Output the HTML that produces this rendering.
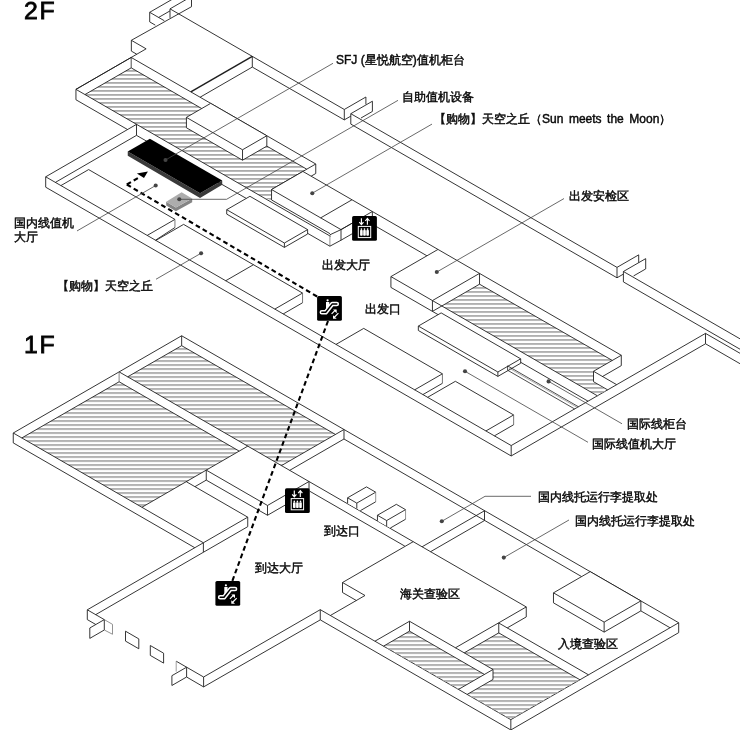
<!DOCTYPE html>
<html lang="zh"><head><meta charset="utf-8"><title>Airport floor map</title>
<style>
html,body{margin:0;padding:0;background:#fff}
body{width:740px;height:730px;position:relative;overflow:hidden;font-family:"Liberation Sans",sans-serif;color:#111}
svg{position:absolute;left:0;top:0;display:block}
.t{position:absolute;font-size:12px;line-height:14px;white-space:nowrap;font-weight:500;letter-spacing:0;-webkit-text-stroke:0.42px #000;will-change:transform}
.f{position:absolute;font-size:24.8px;line-height:26px;letter-spacing:1.6px;color:#000;-webkit-text-stroke:0.8px #000;will-change:transform}
</style></head><body>
<svg width="740" height="730" viewBox="0 0 740 730">
<defs>
<pattern id="h1" width="8" height="4" patternUnits="userSpaceOnUse" x="0" y="2.0"><rect x="0" y="0" width="8" height="1.8" fill="#ababab"/></pattern>
<pattern id="h2" width="8" height="4" patternUnits="userSpaceOnUse" x="0" y="3.05"><rect x="0" y="0" width="8" height="1.8" fill="#ababab"/></pattern>
<pattern id="h3" width="8" height="4" patternUnits="userSpaceOnUse" x="0" y="0.1"><rect x="0" y="0" width="8" height="1.8" fill="#ababab"/></pattern>
<pattern id="h4" width="8" height="4" patternUnits="userSpaceOnUse" x="0" y="0.1"><rect x="0" y="0" width="8" height="1.8" fill="#ababab"/></pattern>
</defs>
<rect width="740" height="730" fill="#fff"/>
<polygon points="131.2,67.85 306.75,169.2 271.54,189.53 271.54,200.53 260.5,195.9 84.96,94.55" fill="url(#h1)" stroke="none"/>
<polyline points="191.5,6.7 131.35,40.3 146.13,48.83 75.95,89.35" fill="none" stroke="#1f1f1f" stroke-width="0.9" stroke-linejoin="round"/>
<line x1="131.35" y1="40.3" x2="131.35" y2="51.1" stroke="#1f1f1f" stroke-width="0.9"/>
<line x1="131.35" y1="51.1" x2="136.78" y2="54.23" stroke="#1f1f1f" stroke-width="0.9"/>
<line x1="191.5" y1="6.7" x2="191.5" y2="-1" stroke="#1f1f1f" stroke-width="0.9"/>
<line x1="149.7" y1="12.3" x2="149.7" y2="21.9" stroke="#1f1f1f" stroke-width="0.9"/>
<line x1="149.7" y1="12.3" x2="172" y2="-0.57" stroke="#1f1f1f" stroke-width="0.9"/>
<line x1="149.7" y1="12.3" x2="164.3" y2="20.73" stroke="#1f1f1f" stroke-width="0.9"/>
<line x1="149.7" y1="21.9" x2="155.3" y2="25.13" stroke="#1f1f1f" stroke-width="0.9"/>
<line x1="158.7" y1="17.4" x2="170" y2="10.88" stroke="#1f1f1f" stroke-width="0.9"/>
<line x1="170" y1="8.85" x2="170" y2="17.9" stroke="#1f1f1f" stroke-width="0.9"/>
<line x1="170" y1="8.85" x2="187" y2="-0.96" stroke="#1f1f1f" stroke-width="0.9"/>
<line x1="170" y1="8.85" x2="344.3" y2="109.48" stroke="#1f1f1f" stroke-width="0.9"/>
<line x1="252.3" y1="56.37" x2="252.3" y2="67.07" stroke="#1f1f1f" stroke-width="0.9"/>
<line x1="252.3" y1="56.37" x2="190.81" y2="91.87" stroke="#1f1f1f" stroke-width="1.5"/>
<line x1="252.3" y1="67.07" x2="200.08" y2="97.22" stroke="#1f1f1f" stroke-width="0.9"/>
<line x1="252.3" y1="67.07" x2="344.3" y2="119.88" stroke="#1f1f1f" stroke-width="0.9"/>
<line x1="344.3" y1="109.48" x2="344.3" y2="119.88" stroke="#1f1f1f" stroke-width="0.9"/>
<line x1="344.3" y1="109.48" x2="365.9" y2="97.01" stroke="#1f1f1f" stroke-width="0.9"/>
<line x1="365.9" y1="97.01" x2="365.9" y2="104.31" stroke="#1f1f1f" stroke-width="0.9"/>
<line x1="344.3" y1="119.88" x2="350.8" y2="116.13" stroke="#1f1f1f" stroke-width="0.9"/>
<line x1="350.8" y1="113.7" x2="350.8" y2="124.1" stroke="#1f1f1f" stroke-width="0.9"/>
<line x1="350.8" y1="113.7" x2="372.4" y2="101.23" stroke="#1f1f1f" stroke-width="0.9"/>
<line x1="372.4" y1="101.23" x2="372.4" y2="111.43" stroke="#1f1f1f" stroke-width="0.9"/>
<line x1="372.4" y1="111.43" x2="361" y2="118.01" stroke="#1f1f1f" stroke-width="0.9"/>
<line x1="350.8" y1="113.7" x2="617" y2="267.39" stroke="#1f1f1f" stroke-width="0.9"/>
<line x1="350.8" y1="124.1" x2="617" y2="277.79" stroke="#1f1f1f" stroke-width="0.9"/>
<line x1="617" y1="267.39" x2="617" y2="277.79" stroke="#1f1f1f" stroke-width="0.9"/>
<line x1="617" y1="267.39" x2="638.7" y2="254.86" stroke="#1f1f1f" stroke-width="0.9"/>
<line x1="638.7" y1="254.86" x2="638.7" y2="262.66" stroke="#1f1f1f" stroke-width="0.9"/>
<line x1="617" y1="277.79" x2="623.4" y2="274.1" stroke="#1f1f1f" stroke-width="0.9"/>
<line x1="623.4" y1="271.5" x2="623.4" y2="281.9" stroke="#1f1f1f" stroke-width="0.9"/>
<line x1="623.4" y1="271.5" x2="645.7" y2="258.63" stroke="#1f1f1f" stroke-width="0.9"/>
<line x1="645.7" y1="258.63" x2="645.7" y2="268.93" stroke="#1f1f1f" stroke-width="0.9"/>
<line x1="645.7" y1="268.93" x2="633.6" y2="275.91" stroke="#1f1f1f" stroke-width="0.9"/>
<line x1="623.4" y1="271.5" x2="742" y2="339.97" stroke="#1f1f1f" stroke-width="0.9"/>
<line x1="623.4" y1="281.9" x2="742" y2="350.37" stroke="#1f1f1f" stroke-width="0.9"/>
<line x1="705.5" y1="333.38" x2="705.5" y2="343.78" stroke="#1f1f1f" stroke-width="0.9"/>
<line x1="705.5" y1="333.38" x2="511.2" y2="445.56" stroke="#1f1f1f" stroke-width="0.9"/>
<line x1="705.5" y1="343.78" x2="511.2" y2="455.96" stroke="#1f1f1f" stroke-width="0.9"/>
<line x1="511.2" y1="445.56" x2="511.2" y2="455.96" stroke="#1f1f1f" stroke-width="0.9"/>
<line x1="705.5" y1="333.38" x2="742" y2="354.45" stroke="#1f1f1f" stroke-width="0.9"/>
<line x1="705.5" y1="343.78" x2="742" y2="364.85" stroke="#1f1f1f" stroke-width="0.9"/>
<line x1="45.69" y1="176.8" x2="136.5" y2="124.37" stroke="#1f1f1f" stroke-width="0.9"/>
<line x1="136.5" y1="124.37" x2="136.5" y2="135.37" stroke="#1f1f1f" stroke-width="0.9"/>
<line x1="55.39" y1="182.4" x2="136.5" y2="135.37" stroke="#1f1f1f" stroke-width="0.9"/>
<line x1="75.95" y1="89.35" x2="75.95" y2="99.75" stroke="#1f1f1f" stroke-width="0.9"/>
<line x1="75.95" y1="89.35" x2="131.2" y2="57.45" stroke="#1f1f1f" stroke-width="0.9"/>
<line x1="131.2" y1="57.45" x2="131.2" y2="67.85" stroke="#1f1f1f" stroke-width="0.8"/>
<line x1="131.2" y1="57.45" x2="315.75" y2="164" stroke="#1f1f1f" stroke-width="0.9"/>
<line x1="315.75" y1="164" x2="315.75" y2="173.5" stroke="#1f1f1f" stroke-width="0.9"/>
<line x1="315.75" y1="164" x2="271.54" y2="189.53" stroke="#1f1f1f" stroke-width="0.9"/>
<line x1="315.75" y1="173.5" x2="311.12" y2="176.18" stroke="#1f1f1f" stroke-width="0.9"/>
<line x1="131.2" y1="67.85" x2="306.75" y2="169.2" stroke="#1f1f1f" stroke-width="0.9"/>
<line x1="131.2" y1="67.85" x2="84.96" y2="94.55" stroke="#1f1f1f" stroke-width="0.9"/>
<line x1="75.95" y1="89.35" x2="330.5" y2="236.31" stroke="#1f1f1f" stroke-width="0.9"/>
<line x1="75.95" y1="99.75" x2="127.55" y2="129.54" stroke="#1f1f1f" stroke-width="0.9"/>
<line x1="136.5" y1="135.37" x2="250" y2="200.54" stroke="#1f1f1f" stroke-width="0.9"/>
<polygon points="186.41,117.38 210.7,103.35 266.82,135.75 266.82,146.15 242.53,160.18 186.41,127.78" fill="#fff" stroke="none" stroke-width="0.9" stroke-linejoin="round"/>
<polygon points="186.41,117.38 210.7,103.35 266.82,135.75 242.53,149.78" fill="none" stroke="#1f1f1f" stroke-width="0.9" stroke-linejoin="round"/>
<polyline points="186.41,117.38 186.41,127.78 242.53,160.18 266.82,146.15 266.82,135.75" fill="none" stroke="#1f1f1f" stroke-width="0.9" stroke-linejoin="round"/>
<line x1="242.53" y1="149.78" x2="242.53" y2="160.18" stroke="#1f1f1f" stroke-width="0.9"/>
<polygon points="271.54,189.53 302.89,171.43 372.35,211.53 372.35,223.53 341,240.62 271.54,200.03" fill="#fff" stroke="none" stroke-width="0.9" stroke-linejoin="round"/>
<polygon points="271.54,189.53 302.89,171.43 372.35,211.53 341,229.62" fill="none" stroke="#1f1f1f" stroke-width="0.9" stroke-linejoin="round"/>
<line x1="271.54" y1="189.53" x2="271.54" y2="199.93" stroke="#1f1f1f" stroke-width="0.9"/>
<line x1="271.54" y1="199.93" x2="330" y2="233.68" stroke="#1f1f1f" stroke-width="0.9"/>
<line x1="329.9" y1="234.8" x2="329.9" y2="246.2" stroke="#777" stroke-width="0.8"/>
<line x1="329.9" y1="234.8" x2="341" y2="229.62" stroke="#1f1f1f" stroke-width="0.9"/>
<line x1="341" y1="229.62" x2="341" y2="240.22" stroke="#1f1f1f" stroke-width="0.9"/>
<line x1="329.9" y1="246.2" x2="341" y2="240.22" stroke="#1f1f1f" stroke-width="0.9"/>
<line x1="329.9" y1="246.2" x2="307.7" y2="233.38" stroke="#1f1f1f" stroke-width="0.9"/>
<line x1="320.65" y1="217.88" x2="352" y2="199.78" stroke="#1f1f1f" stroke-width="0.9"/>
<line x1="341" y1="229.62" x2="352.5" y2="222.98" stroke="#1f1f1f" stroke-width="0.9"/>
<line x1="341" y1="240.22" x2="352.5" y2="233.58" stroke="#1f1f1f" stroke-width="0.9"/>
<line x1="372.35" y1="211.53" x2="372.35" y2="217.53" stroke="#1f1f1f" stroke-width="0.9"/>
<line x1="372.35" y1="211.53" x2="437.99" y2="249.43" stroke="#1f1f1f" stroke-width="0.9"/>
<line x1="376" y1="226.38" x2="426.95" y2="255.8" stroke="#1f1f1f" stroke-width="0.9"/>
<polygon points="226.73,209.7 249.94,196.3 307.61,229.6 307.61,234 284.4,247.4 226.73,214.1" fill="#fff" stroke="none" stroke-width="0.9" stroke-linejoin="round"/>
<polygon points="226.73,209.7 249.94,196.3 307.61,229.6 284.4,243" fill="none" stroke="#1f1f1f" stroke-width="0.9" stroke-linejoin="round"/>
<polyline points="226.73,209.7 226.73,214.1 284.4,247.4 307.61,234 307.61,229.6" fill="none" stroke="#1f1f1f" stroke-width="0.9" stroke-linejoin="round"/>
<line x1="284.4" y1="243" x2="284.4" y2="247.4" stroke="#1f1f1f" stroke-width="0.9"/>
<polygon points="479.52,284.2 612.28,360.45 593.5,371.29 593.5,381.69 606.8,390.36 597.38,395.8 441.8,305.97" fill="url(#h2)" stroke="none"/>
<polygon points="390.92,276.6 437.99,249.43 479.52,273.4 479.52,284.2 432.45,311.38 390.92,287.4" fill="#fff" stroke="none" stroke-width="0.9" stroke-linejoin="round"/>
<polygon points="390.92,276.6 437.99,249.43 479.52,273.4 432.45,300.57" fill="none" stroke="#1f1f1f" stroke-width="0.9" stroke-linejoin="round"/>
<polyline points="390.92,276.6 390.92,287.4 432.45,311.38 479.52,284.2 479.52,273.4" fill="none" stroke="#1f1f1f" stroke-width="0.9" stroke-linejoin="round"/>
<line x1="432.45" y1="300.57" x2="432.45" y2="311.38" stroke="#1f1f1f" stroke-width="0.9"/>
<line x1="479.52" y1="273.4" x2="621.29" y2="355.25" stroke="#1f1f1f" stroke-width="0.9"/>
<line x1="621.29" y1="355.25" x2="621.29" y2="365.65" stroke="#1f1f1f" stroke-width="0.9"/>
<line x1="621.29" y1="355.25" x2="593.5" y2="371.29" stroke="#1f1f1f" stroke-width="0.9"/>
<line x1="593.5" y1="371.29" x2="593.5" y2="381.69" stroke="#1f1f1f" stroke-width="0.9"/>
<line x1="621.29" y1="365.65" x2="602" y2="376.79" stroke="#1f1f1f" stroke-width="0.9"/>
<line x1="593.5" y1="371.29" x2="616.67" y2="384.67" stroke="#1f1f1f" stroke-width="0.9"/>
<line x1="593.5" y1="381.69" x2="607.66" y2="389.87" stroke="#1f1f1f" stroke-width="0.9"/>
<line x1="479.52" y1="284.2" x2="612.28" y2="360.45" stroke="#1f1f1f" stroke-width="0.9"/>
<line x1="432.45" y1="300.57" x2="597.38" y2="395.8" stroke="#1f1f1f" stroke-width="0.9"/>
<line x1="432.45" y1="311.38" x2="588.03" y2="401.2" stroke="#1f1f1f" stroke-width="0.9"/>
<polygon points="418.33,326.07 441.15,312.9 520.7,358.83 520.7,363.23 497.88,376.4 418.33,330.47" fill="#fff" stroke="none" stroke-width="0.9" stroke-linejoin="round"/>
<polygon points="418.33,326.07 441.15,312.9 520.7,358.83 497.88,372" fill="none" stroke="#1f1f1f" stroke-width="0.9" stroke-linejoin="round"/>
<polyline points="418.33,326.07 418.33,330.47 497.88,376.4 520.7,363.23 520.7,358.83" fill="none" stroke="#1f1f1f" stroke-width="0.9" stroke-linejoin="round"/>
<line x1="497.88" y1="372" x2="497.88" y2="376.4" stroke="#1f1f1f" stroke-width="0.9"/>
<line x1="507.6" y1="365.86" x2="578.42" y2="406.75" stroke="#1f1f1f" stroke-width="0.8"/>
<line x1="509" y1="368.07" x2="577.21" y2="407.45" stroke="#777" stroke-width="0.6"/>
<line x1="507.6" y1="370.26" x2="574.61" y2="408.95" stroke="#1f1f1f" stroke-width="0.8"/>
<line x1="507.6" y1="365.86" x2="507.6" y2="370.26" stroke="#1f1f1f" stroke-width="0.8"/>
<polygon points="60.91,185.58 88.64,169.57 174.94,219.4 174.94,227.5 154.22,239.46 60.91,185.58" fill="#fff" stroke="none" stroke-width="0.9" stroke-linejoin="round"/>
<polyline points="60.91,185.58 88.64,169.57 174.94,219.4 147.21,235.41" fill="none" stroke="#1f1f1f" stroke-width="0.9" stroke-linejoin="round"/>
<line x1="174.94" y1="219.4" x2="174.94" y2="227.5" stroke="#555" stroke-width="0.8"/>
<line x1="174.94" y1="227.5" x2="155.52" y2="240.21" stroke="#1f1f1f" stroke-width="0.9"/>
<polygon points="155.87,240.41 183.6,224.4 302.55,293.07 302.55,302.77 283.22,313.94 155.87,240.41" fill="#fff" stroke="none" stroke-width="0.9" stroke-linejoin="round"/>
<polyline points="155.87,240.41 183.6,224.4 302.55,293.07 274.82,309.08" fill="none" stroke="#1f1f1f" stroke-width="0.9" stroke-linejoin="round"/>
<line x1="302.55" y1="293.07" x2="302.55" y2="302.77" stroke="#555" stroke-width="0.8"/>
<line x1="302.55" y1="302.77" x2="283.22" y2="313.94" stroke="#1f1f1f" stroke-width="0.9"/>
<line x1="225.71" y1="280.74" x2="253.44" y2="264.73" stroke="#1f1f1f" stroke-width="0.9"/>
<polygon points="336,344.41 363.73,328.4 442.41,373.82 442.41,383.32 422.91,394.58 336,344.41" fill="#fff" stroke="none" stroke-width="0.9" stroke-linejoin="round"/>
<polyline points="336,344.41 363.73,328.4 442.41,373.82 414.68,389.83" fill="none" stroke="#1f1f1f" stroke-width="0.9" stroke-linejoin="round"/>
<line x1="442.41" y1="373.82" x2="442.41" y2="383.32" stroke="#555" stroke-width="0.8"/>
<line x1="442.41" y1="383.32" x2="422.91" y2="394.58" stroke="#1f1f1f" stroke-width="0.9"/>
<polygon points="427.63,397.31 455.36,381.3 513.64,414.95 513.64,424.75 494.4,435.86 427.63,397.31" fill="#fff" stroke="none" stroke-width="0.9" stroke-linejoin="round"/>
<polyline points="427.63,397.31 455.36,381.3 513.64,414.95 485.91,430.96" fill="none" stroke="#1f1f1f" stroke-width="0.9" stroke-linejoin="round"/>
<line x1="513.64" y1="414.95" x2="513.64" y2="424.75" stroke="#555" stroke-width="0.8"/>
<line x1="513.64" y1="424.75" x2="494.4" y2="435.86" stroke="#1f1f1f" stroke-width="0.9"/>
<line x1="45.69" y1="176.8" x2="511.2" y2="445.56" stroke="#1f1f1f" stroke-width="0.9"/>
<line x1="45.69" y1="187.2" x2="511.2" y2="455.96" stroke="#1f1f1f" stroke-width="0.9"/>
<line x1="45.69" y1="176.8" x2="45.69" y2="187.2" stroke="#1f1f1f" stroke-width="0.9"/>
<polygon points="127.74,151.45 200.05,193.2 222.22,180.4 222.22,184.8 200.05,197.9 127.74,155.85" fill="#3a3a3a" stroke="none" stroke-width="0.9" stroke-linejoin="round"/>
<polygon points="127.74,151.45 149.91,138.65 222.22,180.4 200.05,193.2" fill="#000" stroke="none" stroke-width="0.9" stroke-linejoin="round"/>
<polygon points="166.2,201.8 175.9,207.5 192.2,198.6 192.2,202.2 175.9,211.2 166.2,205.4" fill="#858585" stroke="none" stroke-width="0.9" stroke-linejoin="round"/>
<polygon points="166.2,201.8 181.6,192.3 192.2,198.6 175.9,207.5" fill="#adadad" stroke="none" stroke-width="0.9" stroke-linejoin="round"/>
<polygon points="119.12,381.77 239.2,451.1 141.9,507.28 21.82,437.95" fill="url(#h3)" stroke="none"/>
<polygon points="181.65,345.67 335.41,434.45 281.46,465.6 127.7,376.82" fill="url(#h3)" stroke="none"/>
<line x1="13.25" y1="433" x2="181.65" y2="335.77" stroke="#1f1f1f" stroke-width="0.9"/>
<line x1="13.25" y1="433" x2="13.25" y2="442.9" stroke="#1f1f1f" stroke-width="0.9"/>
<line x1="181.65" y1="335.77" x2="181.65" y2="345.67" stroke="#1f1f1f" stroke-width="0.9"/>
<line x1="181.65" y1="335.77" x2="678.7" y2="622.75" stroke="#1f1f1f" stroke-width="0.9"/>
<line x1="678.7" y1="622.75" x2="678.7" y2="632.65" stroke="#1f1f1f" stroke-width="0.9"/>
<line x1="181.65" y1="345.67" x2="335.41" y2="434.45" stroke="#1f1f1f" stroke-width="0.9"/>
<line x1="181.65" y1="345.67" x2="127.7" y2="376.82" stroke="#1f1f1f" stroke-width="0.9"/>
<line x1="343.99" y1="429.5" x2="343.99" y2="439" stroke="#1f1f1f" stroke-width="0.9"/>
<line x1="343.99" y1="429.5" x2="281.46" y2="465.6" stroke="#1f1f1f" stroke-width="0.9"/>
<line x1="343.99" y1="439" x2="289.69" y2="470.35" stroke="#1f1f1f" stroke-width="0.9"/>
<line x1="119.12" y1="371.88" x2="526.25" y2="606.93" stroke="#1f1f1f" stroke-width="0.9"/>
<line x1="119.12" y1="371.88" x2="119.12" y2="381.77" stroke="#666" stroke-width="0.8"/>
<line x1="119.12" y1="381.77" x2="239.2" y2="451.1" stroke="#1f1f1f" stroke-width="0.9"/>
<line x1="119.12" y1="381.77" x2="21.82" y2="437.95" stroke="#1f1f1f" stroke-width="0.9"/>
<line x1="247.77" y1="446.15" x2="141.9" y2="507.28" stroke="#1f1f1f" stroke-width="0.9"/>
<line x1="13.25" y1="433" x2="203.39" y2="542.78" stroke="#1f1f1f" stroke-width="0.9"/>
<line x1="13.25" y1="442.9" x2="194.81" y2="547.73" stroke="#1f1f1f" stroke-width="0.9"/>
<polygon points="206.25,470.12 267.5,505.48 267.5,515.28 206.25,480.12" fill="#fff" stroke="none" stroke-width="0.9" stroke-linejoin="round"/>
<line x1="206.25" y1="470.12" x2="206.25" y2="480.12" stroke="#1f1f1f" stroke-width="0.9"/>
<line x1="206.25" y1="470.12" x2="267.5" y2="505.48" stroke="#1f1f1f" stroke-width="0.9"/>
<line x1="267.5" y1="505.48" x2="267.5" y2="515.28" stroke="#1f1f1f" stroke-width="0.9"/>
<line x1="206.25" y1="480.12" x2="267.5" y2="515.28" stroke="#1f1f1f" stroke-width="0.9"/>
<line x1="206.25" y1="480.12" x2="195" y2="486.62" stroke="#1f1f1f" stroke-width="0.9"/>
<line x1="267.5" y1="505.48" x2="309.02" y2="481.51" stroke="#1f1f1f" stroke-width="0.9"/>
<line x1="267.5" y1="515.28" x2="286" y2="504.6" stroke="#1f1f1f" stroke-width="0.9"/>
<line x1="309.02" y1="481.51" x2="309.02" y2="489.01" stroke="#1f1f1f" stroke-width="0.9"/>
<line x1="186.25" y1="481.67" x2="247.74" y2="517.17" stroke="#1f1f1f" stroke-width="0.9"/>
<line x1="247.74" y1="517.17" x2="247.74" y2="526.67" stroke="#1f1f1f" stroke-width="0.9"/>
<line x1="247.74" y1="517.17" x2="203.39" y2="542.78" stroke="#1f1f1f" stroke-width="0.9"/>
<line x1="203.39" y1="542.78" x2="203.39" y2="552.28" stroke="#1f1f1f" stroke-width="0.9"/>
<line x1="203.39" y1="552.28" x2="247.74" y2="526.67" stroke="#1f1f1f" stroke-width="0.9"/>
<line x1="203.39" y1="542.78" x2="87.3" y2="609.8" stroke="#1f1f1f" stroke-width="0.9"/>
<line x1="203.39" y1="552.28" x2="95.8" y2="614.59" stroke="#1f1f1f" stroke-width="0.9"/>
<line x1="87.3" y1="609.8" x2="87.3" y2="619.6" stroke="#1f1f1f" stroke-width="0.9"/>
<line x1="87.3" y1="609.8" x2="104.3" y2="619.61" stroke="#1f1f1f" stroke-width="0.9"/>
<line x1="87.3" y1="619.6" x2="95.8" y2="624.5" stroke="#1f1f1f" stroke-width="0.9"/>
<line x1="104.3" y1="619.61" x2="104.3" y2="630.01" stroke="#1f1f1f" stroke-width="0.9"/>
<polyline points="104.3,619.61 89.8,627.98 89.8,638.38 104.3,630.01" fill="none" stroke="#1f1f1f" stroke-width="0.9" stroke-linejoin="round"/>
<polyline points="104.3,619.61 112.5,624.35 112.5,634.25 104.3,630.01" fill="none" stroke="#777" stroke-width="0.8" stroke-linejoin="round"/>
<polygon points="125.5,631.2 138.8,638.88 138.8,648.78 125.5,641.1" fill="none" stroke="#1f1f1f" stroke-width="0.9" stroke-linejoin="round"/>
<polygon points="150.3,645.52 163.6,653.2 163.6,663.1 150.3,655.42" fill="none" stroke="#1f1f1f" stroke-width="0.9" stroke-linejoin="round"/>
<line x1="176.2" y1="661.2" x2="186.6" y2="667.2" stroke="#1f1f1f" stroke-width="0.9"/>
<line x1="176.2" y1="661.2" x2="176.2" y2="671.6" stroke="#888" stroke-width="0.8"/>
<line x1="186.6" y1="667.2" x2="186.6" y2="677" stroke="#1f1f1f" stroke-width="0.9"/>
<polyline points="186.6,667.2 171.9,675.69 171.9,685.49 186.6,677" fill="none" stroke="#1f1f1f" stroke-width="0.9" stroke-linejoin="round"/>
<line x1="186.6" y1="667.2" x2="203.6" y2="677.01" stroke="#1f1f1f" stroke-width="0.9"/>
<line x1="186.6" y1="677" x2="203.6" y2="686.91" stroke="#1f1f1f" stroke-width="0.9"/>
<line x1="203.6" y1="677.01" x2="203.6" y2="686.91" stroke="#1f1f1f" stroke-width="0.9"/>
<line x1="203.6" y1="677.01" x2="320.27" y2="609.66" stroke="#1f1f1f" stroke-width="0.9"/>
<line x1="203.6" y1="686.91" x2="320.27" y2="619.86" stroke="#1f1f1f" stroke-width="0.9"/>
<line x1="320.27" y1="609.66" x2="320.27" y2="619.86" stroke="#1f1f1f" stroke-width="0.9"/>
<line x1="320.27" y1="609.66" x2="510.83" y2="719.67" stroke="#1f1f1f" stroke-width="0.9"/>
<line x1="320.27" y1="619.86" x2="510.83" y2="729.97" stroke="#1f1f1f" stroke-width="0.9"/>
<line x1="510.83" y1="719.67" x2="510.83" y2="729.97" stroke="#1f1f1f" stroke-width="0.9"/>
<line x1="678.7" y1="622.75" x2="510.83" y2="719.67" stroke="#1f1f1f" stroke-width="0.9"/>
<line x1="678.7" y1="632.65" x2="510.83" y2="729.97" stroke="#1f1f1f" stroke-width="0.9"/>
<line x1="342.5" y1="582.5" x2="342.5" y2="592.5" stroke="#1f1f1f" stroke-width="0.9"/>
<line x1="342.5" y1="582.5" x2="413.22" y2="541.67" stroke="#1f1f1f" stroke-width="0.9"/>
<line x1="342.5" y1="582.5" x2="365" y2="595.49" stroke="#1f1f1f" stroke-width="0.9"/>
<line x1="365" y1="595.49" x2="330.37" y2="615.49" stroke="#1f1f1f" stroke-width="0.9"/>
<line x1="342.5" y1="592.5" x2="356.34" y2="600.49" stroke="#1f1f1f" stroke-width="0.9"/>
<line x1="343.99" y1="439" x2="581.62" y2="576.6" stroke="#1f1f1f" stroke-width="0.9"/>
<line x1="484.5" y1="510.75" x2="484.5" y2="520.55" stroke="#1f1f1f" stroke-width="0.9"/>
<line x1="484.5" y1="510.75" x2="422.08" y2="546.79" stroke="#1f1f1f" stroke-width="0.9"/>
<line x1="484.5" y1="520.55" x2="430.57" y2="551.69" stroke="#1f1f1f" stroke-width="0.9"/>
<line x1="526.25" y1="606.93" x2="526.25" y2="616.93" stroke="#1f1f1f" stroke-width="0.9"/>
<line x1="526.25" y1="606.93" x2="455.45" y2="647.81" stroke="#1f1f1f" stroke-width="0.9"/>
<line x1="526.25" y1="616.93" x2="507.24" y2="627.91" stroke="#1f1f1f" stroke-width="0.9"/>
<polygon points="409.5,631.15 484.43,674.43 458.45,689.43 383.5,646.16" fill="url(#h4)" stroke="none"/>
<polygon points="498.75,632.9 579.93,679.77 510.83,719.67 467.11,694.43 493,679.48 493,669.48 464.19,652.85" fill="url(#h4)" stroke="none"/>
<line x1="409.5" y1="621.25" x2="409.5" y2="631.15" stroke="#1f1f1f" stroke-width="0.9"/>
<line x1="409.5" y1="621.25" x2="374.92" y2="641.21" stroke="#1f1f1f" stroke-width="0.9"/>
<line x1="409.5" y1="631.15" x2="383.5" y2="646.16" stroke="#1f1f1f" stroke-width="0.9"/>
<line x1="409.5" y1="621.25" x2="493" y2="669.48" stroke="#1f1f1f" stroke-width="0.9"/>
<line x1="493" y1="669.48" x2="493" y2="679.48" stroke="#1f1f1f" stroke-width="0.9"/>
<line x1="493" y1="669.48" x2="458.45" y2="689.43" stroke="#1f1f1f" stroke-width="0.9"/>
<line x1="493" y1="679.48" x2="467.11" y2="694.43" stroke="#1f1f1f" stroke-width="0.9"/>
<line x1="409.5" y1="631.15" x2="484.43" y2="674.43" stroke="#1f1f1f" stroke-width="0.9"/>
<line x1="498.75" y1="623" x2="498.75" y2="632.9" stroke="#1f1f1f" stroke-width="0.9"/>
<line x1="498.75" y1="623" x2="588.51" y2="674.83" stroke="#1f1f1f" stroke-width="0.9"/>
<line x1="498.75" y1="632.9" x2="579.93" y2="679.77" stroke="#1f1f1f" stroke-width="0.9"/>
<line x1="498.75" y1="632.9" x2="464.19" y2="652.85" stroke="#1f1f1f" stroke-width="0.9"/>
<polygon points="553.48,592.85 590.2,571.65 640.86,600.9 640.86,610.9 604.14,632.1 553.48,602.85" fill="#fff" stroke="none" stroke-width="0.9" stroke-linejoin="round"/>
<polygon points="553.48,592.85 590.2,571.65 640.86,600.9 604.14,622.1" fill="none" stroke="#1f1f1f" stroke-width="0.9" stroke-linejoin="round"/>
<polyline points="553.48,592.85 553.48,602.85 604.14,632.1 640.86,610.9 640.86,600.9" fill="none" stroke="#1f1f1f" stroke-width="0.9" stroke-linejoin="round"/>
<line x1="604.14" y1="622.1" x2="604.14" y2="632.1" stroke="#1f1f1f" stroke-width="0.9"/>
<line x1="640.86" y1="610.9" x2="670.04" y2="627.75" stroke="#1f1f1f" stroke-width="0.9"/>
<polygon points="347.6,497.8 366.5,486.89 375.7,492.2 375.7,501.8 360.28,510.71 356.8,508.61 347.6,503.3" fill="#fff" stroke="none" stroke-width="0.9" stroke-linejoin="round"/>
<polygon points="347.6,497.8 366.5,486.89 375.7,492.2 356.8,503.11" fill="none" stroke="#1f1f1f" stroke-width="0.9" stroke-linejoin="round"/>
<line x1="347.6" y1="497.8" x2="347.6" y2="503.3" stroke="#1f1f1f" stroke-width="0.9"/>
<line x1="356.8" y1="503.11" x2="356.8" y2="508.61" stroke="#1f1f1f" stroke-width="0.9"/>
<line x1="375.7" y1="492.2" x2="375.7" y2="501.8" stroke="#777" stroke-width="0.8"/>
<line x1="375.7" y1="501.8" x2="360.28" y2="510.71" stroke="#1f1f1f" stroke-width="0.9"/>
<polygon points="377.45,515.25 396.35,504.34 405.55,509.65 405.55,519.25 390.31,528.05 386.65,526.06 377.45,520.75" fill="#fff" stroke="none" stroke-width="0.9" stroke-linejoin="round"/>
<polygon points="377.45,515.25 396.35,504.34 405.55,509.65 386.65,520.56" fill="none" stroke="#1f1f1f" stroke-width="0.9" stroke-linejoin="round"/>
<line x1="377.45" y1="515.25" x2="377.45" y2="520.75" stroke="#1f1f1f" stroke-width="0.9"/>
<line x1="386.65" y1="520.56" x2="386.65" y2="526.06" stroke="#1f1f1f" stroke-width="0.9"/>
<line x1="405.55" y1="509.65" x2="405.55" y2="519.25" stroke="#777" stroke-width="0.8"/>
<line x1="405.55" y1="519.25" x2="390.31" y2="528.05" stroke="#1f1f1f" stroke-width="0.9"/>
<line x1="309.85" y1="491.29" x2="404.87" y2="546.15" stroke="#1f1f1f" stroke-width="0.9"/>
<polyline points="126.8,184.5 317.3,296.6" fill="none" stroke="#000" stroke-width="2.1" stroke-dasharray="4.8 3.2"/>
<polyline points="126.8,184.5 140.6,176.53" fill="none" stroke="#000" stroke-width="2.1" stroke-dasharray="4.8 3.2"/>
<polygon points="136.9,173.4 147.9,171.4 144,178.1" fill="#000" stroke="none" stroke-width="0.9" stroke-linejoin="round"/>
<line x1="328.0" y1="321" x2="232.3" y2="581" stroke="#000" stroke-width="2.1" stroke-dasharray="4.8 3.2"/>
<polyline points="165.5,160 333,63.29" fill="none" stroke="#444" stroke-width="0.8"/>
<circle cx="165.5" cy="160" r="2.05" fill="#444"/>
<polyline points="179.3,199.3 226.6,199.3 398,100.34" fill="none" stroke="#444" stroke-width="0.8"/>
<circle cx="179.3" cy="199.3" r="2.05" fill="#444"/>
<polyline points="312.3,193.2 432,124.09" fill="none" stroke="#444" stroke-width="0.8"/>
<circle cx="312.3" cy="193.2" r="2.05" fill="#444"/>
<polyline points="436.8,272 564,198.56" fill="none" stroke="#444" stroke-width="0.8"/>
<circle cx="436.8" cy="272" r="2.05" fill="#444"/>
<polyline points="155.7,185.5 77,230.94" fill="none" stroke="#444" stroke-width="0.8"/>
<circle cx="155.7" cy="185.5" r="2.05" fill="#444"/>
<polyline points="201.1,253.2 156,279.24" fill="none" stroke="#444" stroke-width="0.8"/>
<circle cx="201.1" cy="253.2" r="2.05" fill="#444"/>
<polyline points="548.6,381.4 622,423.78" fill="none" stroke="#444" stroke-width="0.8"/>
<circle cx="548.6" cy="381.4" r="2.05" fill="#444"/>
<polyline points="465,371.3 588,442.31" fill="none" stroke="#444" stroke-width="0.8"/>
<circle cx="465" cy="371.3" r="2.05" fill="#444"/>
<polyline points="441.8,521.3 485,496.3 531,496.3" fill="none" stroke="#444" stroke-width="0.8"/>
<circle cx="441.8" cy="521.3" r="2.05" fill="#444"/>
<polyline points="503.8,557.6 569,519.96" fill="none" stroke="#444" stroke-width="0.8"/>
<circle cx="503.8" cy="557.6" r="2.05" fill="#444"/>
<g transform="translate(352.1 216)">
<rect x="0" y="0" width="24.8" height="24.8" rx="1.6" fill="#000"/>
<path d="M9.3 2.2V8.4M7.2 6.1L9.3 8.7L11.4 6.1M15.3 8.8V2.6M13.2 5L15.3 2.4L17.4 5" fill="none" stroke="#fff" stroke-width="1.15"/>
<rect x="6.2" y="10.4" width="12.4" height="11.2" fill="none" stroke="#fff" stroke-width="1"/>
<g fill="#fff"><circle cx="9.3" cy="13.1" r="0.85"/><rect x="8.0" y="14.1" width="2.6" height="5.6" rx="0.7"/>
<circle cx="12.4" cy="13.1" r="0.85"/><rect x="11.1" y="14.1" width="2.6" height="5.6" rx="0.7"/>
<circle cx="15.5" cy="13.1" r="0.85"/><rect x="14.2" y="14.1" width="2.6" height="5.6" rx="0.7"/></g>
</g>
<g transform="translate(317.1 296)">
<rect x="0" y="0" width="24.8" height="24.8" rx="1.6" fill="#000"/>
<path d="M8.9 6.1H12.2V10L9.8 13H8.9Z" fill="#fff"/><circle cx="10.5" cy="4.3" r="1.1" fill="#fff"/>
<path d="M4.7 16.3H8.6L15.2 7.9H19.7" fill="none" stroke="#fff" stroke-width="4.5" stroke-linecap="round" stroke-linejoin="round"/>
<path d="M4.7 16.3H8.6L15.2 7.9H19.7" fill="none" stroke="#000" stroke-width="1.5" stroke-linecap="round" stroke-linejoin="round"/>
<path d="M14.5 17.9L18.5 13.9M21.3 17.2L17 21.5" fill="none" stroke="#fff" stroke-width="1.2"/>
<path d="M15.9 13.5H19.6V17.2ZM15.9 19.2V22.8H19.6Z" fill="#fff"/>
</g>
<g transform="translate(285.0 488.2)">
<rect x="0" y="0" width="24.8" height="24.8" rx="1.6" fill="#000"/>
<path d="M9.3 2.2V8.4M7.2 6.1L9.3 8.7L11.4 6.1M15.3 8.8V2.6M13.2 5L15.3 2.4L17.4 5" fill="none" stroke="#fff" stroke-width="1.15"/>
<rect x="6.2" y="10.4" width="12.4" height="11.2" fill="none" stroke="#fff" stroke-width="1"/>
<g fill="#fff"><circle cx="9.3" cy="13.1" r="0.85"/><rect x="8.0" y="14.1" width="2.6" height="5.6" rx="0.7"/>
<circle cx="12.4" cy="13.1" r="0.85"/><rect x="11.1" y="14.1" width="2.6" height="5.6" rx="0.7"/>
<circle cx="15.5" cy="13.1" r="0.85"/><rect x="14.2" y="14.1" width="2.6" height="5.6" rx="0.7"/></g>
</g>
<g transform="translate(215.4 581)">
<rect x="0" y="0" width="24.8" height="24.8" rx="1.6" fill="#000"/>
<path d="M8.9 6.1H12.2V10L9.8 13H8.9Z" fill="#fff"/><circle cx="10.5" cy="4.3" r="1.1" fill="#fff"/>
<path d="M4.7 16.3H8.6L15.2 7.9H19.7" fill="none" stroke="#fff" stroke-width="4.5" stroke-linecap="round" stroke-linejoin="round"/>
<path d="M4.7 16.3H8.6L15.2 7.9H19.7" fill="none" stroke="#000" stroke-width="1.5" stroke-linecap="round" stroke-linejoin="round"/>
<path d="M14.5 17.9L18.5 13.9M21.3 17.2L17 21.5" fill="none" stroke="#fff" stroke-width="1.2"/>
<path d="M15.9 13.5H19.6V17.2ZM15.9 19.2V22.8H19.6Z" fill="#fff"/>
</g>
</svg>
<div class="f" style="left:24.2px;top:-2.4px">2F</div>
<div class="f" style="left:24.2px;top:332.2px">1F</div>
<div class="t" style="left:336px;top:53px">SFJ (星悦航空)值机柜台</div>
<div class="t" style="left:402.3px;top:89.8px">自助值机设备</div>
<div class="t" style="left:433.5px;top:112px;word-spacing:2.2px">【购物】天空之丘（Sun meets the Moon）</div>
<div class="t" style="left:569px;top:189px">出发安检区</div>
<div class="t" style="left:14px;top:216px">国内线值机</div>
<div class="t" style="left:14px;top:229.6px">大厅</div>
<div class="t" style="left:57.4px;top:278.7px">【购物】天空之丘</div>
<div class="t" style="left:322px;top:257.5px">出发大厅</div>
<div class="t" style="left:364.8px;top:301.6px">出发口</div>
<div class="t" style="left:627px;top:417px">国际线柜台</div>
<div class="t" style="left:592px;top:437px">国际线值机大厅</div>
<div class="t" style="left:538px;top:490px">国内线托运行李提取处</div>
<div class="t" style="left:575px;top:514px">国内线托运行李提取处</div>
<div class="t" style="left:324px;top:524px">到达口</div>
<div class="t" style="left:254.6px;top:561px">到达大厅</div>
<div class="t" style="left:400px;top:587px">海关查验区</div>
<div class="t" style="left:558px;top:637px">入境查验区</div>
</body></html>
